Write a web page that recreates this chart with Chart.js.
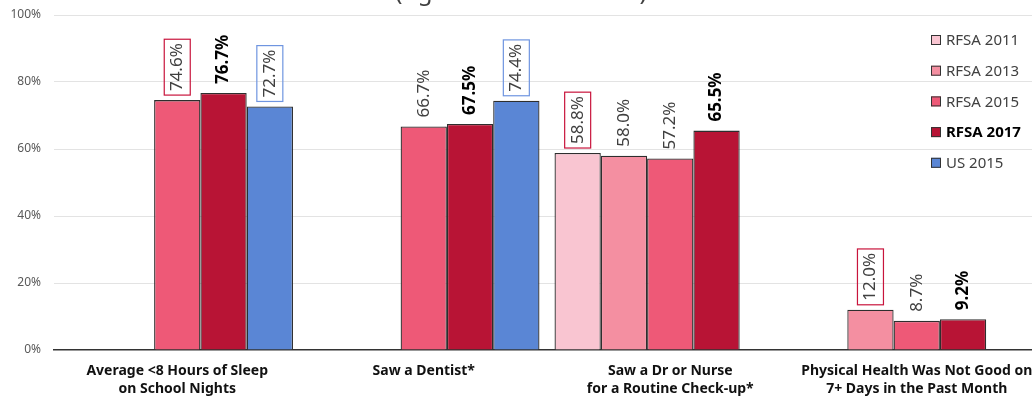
<!DOCTYPE html>
<html>
<head>
<meta charset="utf-8">
<script src="https://cdn.jsdelivr.net/npm/chart.js@4"></script>
<style>
  html, body { margin: 0; padding: 0; overflow: hidden; background: #fff; }
  #wrap { position: relative; width: 1040px; height: 400px; }
</style>
</head>
<body>
<div id="wrap"><canvas id="c"></canvas></div>
<script>
// Indicators (category labels, split over two lines)
const categories = [
  ["Average <8 Hours of Sleep", "on School Nights"],
  ["Saw a Dentist*"],
  ["Saw a Dr or Nurse", "for a Routine Check-up*"],
  ["Physical Health Was Not Good on", "7+ Days in the Past Month"]
];

// Survey series, percent of adolescents
const seriesNames = ["RFSA 2011", "RFSA 2013", "RFSA 2015", "RFSA 2017", "US 2015"];
const rfsa2011 = [null, null, 58.8, null];
const rfsa2013 = [null, null, 58.0, 12.0];
const rfsa2015 = [74.6, 66.7, 57.2, 8.7];
const rfsa2017 = [76.7, 67.5, 65.5, 9.2];
const us2015   = [72.7, 74.4, null, null];

// Values outlined with a box
const boxed2011 = [false, false, true, false];
const boxed2013 = [false, false, false, true];
const boxed2015 = [true, false, false, false];
const boxed2017 = [false, false, false, false];
const boxedUS   = [true, true, false, false];

// Y axis ticks
const yTicks = [0, 20, 40, 60, 80, 100];

const titleText = "(Ages 12-17 Years Old)";

const FONT = '"Noto Sans", "Open Sans", sans-serif';
const RED_BOX = '#c8143c';
const BLUE_BOX = '#6f95e0';

const seriesStyle = [
  { data: rfsa2011, color: '#f9c5d1', boxed: boxed2011, boxColor: RED_BOX, bold: false },
  { data: rfsa2013, color: '#f48fa1', boxed: boxed2013, boxColor: RED_BOX, bold: false },
  { data: rfsa2015, color: '#ee5977', boxed: boxed2015, boxColor: RED_BOX, bold: false },
  { data: rfsa2017, color: '#b81435', boxed: boxed2017, boxColor: RED_BOX, bold: true },
  { data: us2015,   color: '#5a86d5', boxed: boxedUS,   boxColor: BLUE_BOX, bold: false }
];

const datasets = seriesStyle.map((s, i) => ({
  label: seriesNames[i],
  data: s.data,
  backgroundColor: s.color,
  borderColor: '#2e2e2e',
  borderWidth: 1.3,
  barPercentage: 1.0,
  categoryPercentage: 0.939,
  boxed: s.boxed,
  boxColor: s.boxColor,
  labelBold: s.bold
}));

// Rotated value labels above each bar
const valueLabels = {
  id: 'valueLabels',
  afterDatasetsDraw(chart) {
    const ctx = chart.ctx;
    chart.data.datasets.forEach((ds, di) => {
      const meta = chart.getDatasetMeta(di);
      meta.data.forEach((bar, i) => {
        const v = ds.data[i];
        if (v == null) return;
        const text = v.toFixed(1) + '%';
        ctx.save();
        ctx.translate(bar.x, bar.y - 9);
        ctx.rotate(-Math.PI / 2);
        ctx.font = (ds.labelBold ? '700 ' : '400 ') + '17px ' + FONT;
        ctx.fillStyle = ds.labelBold ? '#000000' : '#404040';
        ctx.textAlign = 'left';
        ctx.textBaseline = 'middle';
        ctx.fillText(text, 0, 0);
        if (ds.boxed[i]) {
          const w = ctx.measureText(text).width;
          ctx.strokeStyle = ds.boxColor;
          ctx.lineWidth = 1.2;
          ctx.strokeRect(-4, -13, w + 8, 26);
        }
        ctx.restore();
      });
    });
  }
};

// Legend drawn over the plot, upper right
const cornerLegend = {
  id: 'cornerLegend',
  afterDraw(chart) {
    const ctx = chart.ctx;
    chart.data.datasets.forEach((ds, i) => {
      const y = 40 + i * 30.7;
      ctx.save();
      ctx.fillStyle = ds.backgroundColor;
      ctx.fillRect(931, y - 5, 10, 10);
      ctx.strokeStyle = '#333';
      ctx.lineWidth = 1;
      ctx.strokeRect(931.5, y - 4.5, 9, 9);
      ctx.font = (ds.labelBold ? '700 ' : '400 ') + '15px ' + FONT;
      ctx.fillStyle = ds.labelBold ? '#000' : '#404040';
      ctx.textAlign = 'left';
      ctx.textBaseline = 'middle';
      ctx.fillText(ds.label, 946, y + 1);
      ctx.restore();
    });
  }
};

// Title line at the top edge
const topTitle = {
  id: 'topTitle',
  afterDraw(chart) {
    const ctx = chart.ctx;
    ctx.save();
    ctx.font = '24px ' + FONT;
    ctx.fillStyle = '#404040';
    ctx.textAlign = 'center';
    ctx.textBaseline = 'alphabetic';
    ctx.fillText(titleText, 521, 0);
    ctx.restore();
  }
};

new Chart(document.getElementById('c'), {
  type: 'bar',
  data: { labels: categories, datasets },
  plugins: [valueLabels, cornerLegend, topTitle],
  options: {
    responsive: true,
    maintainAspectRatio: false,
    animation: false,
    layout: { padding: { top: 15, left: 0, right: 0, bottom: 0 } },
    plugins: { legend: { display: false }, tooltip: { enabled: false }, title: { display: false } },
    scales: {
      x: {
        grid: { display: false, drawTicks: false },
        border: { display: true, color: '#333333', width: 1.5 },
        ticks: {
          font: { family: FONT, size: 14, weight: '700', lineHeight: 1.3 },
          color: '#111',
          padding: 12,
          maxRotation: 0,
          autoSkip: false
        },
        afterFit(scale) {
          scale.height = 50;
          scale.paddingLeft = 0;
          scale.paddingRight = 0;
        }
      },
      y: {
        min: yTicks[0],
        max: yTicks[yTicks.length - 1],
        afterBuildTicks(scale) { scale.ticks = yTicks.map(v => ({ value: v })); },
        grid: {
          color: ctx => ctx.tick && ctx.tick.value === 0 ? 'rgba(0,0,0,0)' : '#e3e3e3',
          lineWidth: 1,
          drawTicks: false
        },
        border: { display: false },
        ticks: {
          font: { family: FONT, size: 12 },
          color: '#595959',
          padding: 13,
          callback: v => v + '%'
        },
        afterFit(scale) {
          scale.width = 54;
          scale.paddingTop = 0;
          scale.paddingBottom = 0;
        }
      }
    }
  }
});
</script>
</body>
</html>
